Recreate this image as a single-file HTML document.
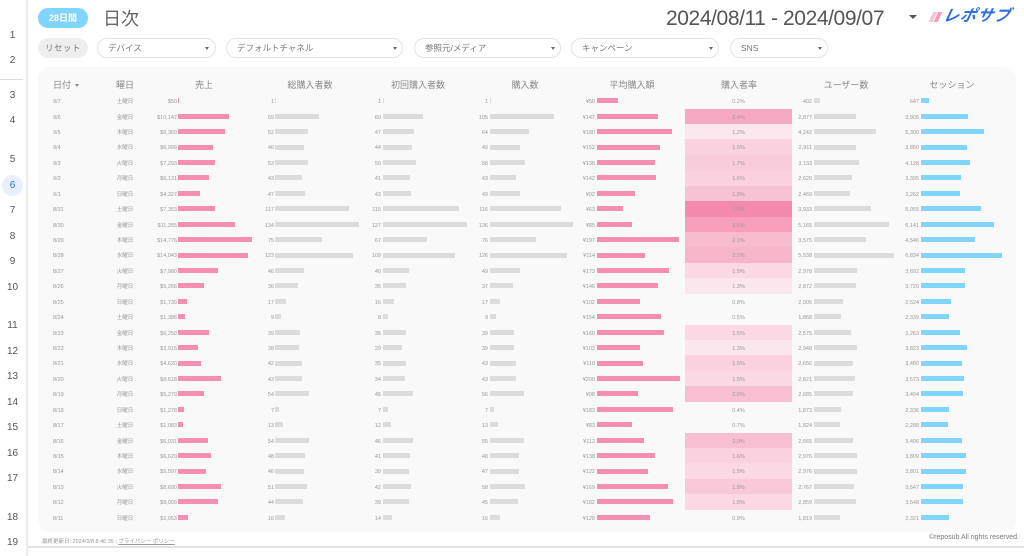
<!DOCTYPE html>
<html><head><meta charset="utf-8">
<style>
*{margin:0;padding:0;box-sizing:border-box}
html,body{width:1024px;height:556px;overflow:hidden;background:#fff}
body{position:relative;font-family:"Liberation Sans","Noto Sans CJK JP",sans-serif;color:#666}
.abs{position:absolute}
#strip{position:absolute;left:0;top:0;width:28px;height:556px;border-right:2px solid #ececec;background:#fff}
.ln{position:absolute;left:0;width:25px;text-align:center;font-size:10px;color:#555;height:14px;line-height:14px}
.pill{position:absolute;top:8px;left:38px;width:50px;height:20px;border-radius:10px;background:#81d4fa;color:#fff;font-weight:bold;font-size:9px;line-height:20px;text-align:center}
.flt{position:absolute;top:38px;height:20px;border-radius:10px;background:#fff;border:1px solid #e2e2e2;font-size:8.5px;color:#777;line-height:18px;padding-left:10px}
.flt .tri{position:absolute;top:8px;border-left:2.5px solid transparent;border-right:2.5px solid transparent;border-top:3px solid #666;width:0;height:0}
#card{position:absolute;left:38px;top:67px;width:978px;height:465px;border-radius:12px;background:#f9f9f9}
.h{position:absolute;top:79px;font-size:9px;color:#888;line-height:12px;text-align:center;white-space:nowrap}
.r{position:absolute;left:0;width:1024px;height:15.45px;font-size:5.5px;color:#999}
.r span{position:absolute;top:0;white-space:nowrap;line-height:18.5px;height:15.45px}
.d{left:53px}
.w{left:110px;width:30px;text-align:center}
.s{left:127px;width:50px;text-align:right}
.n1{left:234px;width:40px;text-align:right}
.n2{left:341px;width:40px;text-align:right}
.n3{left:448px;width:40px;text-align:right}
.a{left:555px;width:40px;text-align:right}
.rt{left:685px;width:107px;text-align:center}
.u{left:772px;width:40px;text-align:right}
.ss{left:879px;width:40px;text-align:right}
.r i{position:absolute;top:5.2px;height:5px;display:block}
.p{background:#f48fb1}.g{background:#dcdcdc}.c{background:#81d4fa}
.x1{left:178px}.x2{left:275px}.x3{left:383px}.x4{left:490px}.x5{left:597px}.x6{left:814px}.x7{left:921px}
</style></head><body>

<div id="strip">
<div class="ln" style="top:29px">1</div>
<div class="ln" style="top:54px">2</div>
<div class="abs" style="left:0;top:79px;width:23px;height:1px;background:#ddd"></div>
<div class="ln" style="top:89px">3</div>
<div class="ln" style="top:114px">4</div>
<div class="ln" style="top:153px">5</div>
<div class="abs" style="left:2px;top:175px;width:21px;height:21px;border-radius:50%;background:#e8f0fe"></div>
<div class="ln" style="top:179px;color:#1a73e8">6</div>
<div class="ln" style="top:204px">7</div>
<div class="ln" style="top:230px">8</div>
<div class="ln" style="top:255px">9</div>
<div class="ln" style="top:281px">10</div>
<div class="ln" style="top:319px">11</div>
<div class="ln" style="top:345px">12</div>
<div class="ln" style="top:370px">13</div>
<div class="ln" style="top:396px">14</div>
<div class="ln" style="top:421px">15</div>
<div class="ln" style="top:447px">16</div>
<div class="ln" style="top:472px">17</div>
<div class="ln" style="top:511px">18</div>
<div class="ln" style="top:536px">19</div>
</div>

<div class="pill">28日間</div>
<div class="abs" style="left:103px;top:7px;font-size:18px;line-height:24px;color:#666">日次</div>

<div class="abs" style="left:666px;top:6px;font-size:21px;line-height:26px;letter-spacing:-0.4px;color:#555;white-space:nowrap">2024/08/11 - 2024/09/07</div>
<div class="abs" style="left:909px;top:15px;width:0;height:0;border-left:4.5px solid transparent;border-right:4.5px solid transparent;border-top:4px solid #555"></div>
<div class="abs" style="left:931px;top:12px;width:4px;height:10px;background:#f8c4d6;transform:skewX(-25deg)"></div>
<div class="abs" style="left:936px;top:12px;width:4px;height:10px;background:#f59bbb;transform:skewX(-25deg)"></div>
<div class="abs" style="left:943px;top:6px;font-size:16px;line-height:22px;font-weight:bold;font-style:italic;color:#2a6fdb;letter-spacing:1px;transform:skewX(-12deg);white-space:nowrap">レポサブ</div>

<div class="abs" style="left:38px;top:38px;width:50px;height:20px;border-radius:10px;background:#eeeeee;font-size:8.5px;color:#777;line-height:20px;text-align:center;letter-spacing:0.5px">リセット</div>
<div class="flt" style="left:97px;width:119px">デバイス<div class="tri" style="left:107px"></div></div>
<div class="flt" style="left:226px;width:177px">デフォルトチャネル<div class="tri" style="left:166px"></div></div>
<div class="flt" style="left:414px;width:147px">参照元/メディア<div class="tri" style="left:136px"></div></div>
<div class="flt" style="left:571px;width:148px">キャンペーン<div class="tri" style="left:137px"></div></div>
<div class="flt" style="left:730px;width:98px">SNS<div class="tri" style="left:87px"></div></div>

<div id="card"></div>

<div class="h" style="left:53px;text-align:left">日付</div>
<div class="abs" style="left:75px;top:84px;width:0;height:0;border-left:2.5px solid transparent;border-right:2.5px solid transparent;border-top:3px solid #888"></div>
<div class="h" style="left:100px;width:50px">曜日</div>
<div class="h" style="left:174px;width:60px">売上</div>
<div class="h" style="left:270px;width:80px">総購入者数</div>
<div class="h" style="left:373px;width:90px">初回購入者数</div>
<div class="h" style="left:490px;width:70px">購入数</div>
<div class="h" style="left:592px;width:80px">平均購入額</div>
<div class="h" style="left:699px;width:80px">購入者率</div>
<div class="h" style="left:806px;width:80px">ユーザー数</div>
<div class="h" style="left:912px;width:80px">セッション</div>

<div class="r" style="top:93.1px"><span class="d">9/7</span><span class="w">土曜日</span><span class="s">$50</span><i class="p x1" style="width:1px"></i><span class="n1">1</span><i class="g x2" style="width:1px"></i><span class="n2">1</span><i class="g x3" style="width:1px"></i><span class="n3">1</span><i class="g x4" style="width:1px"></i><span class="a">¥50</span><i class="p x5" style="width:20.9px"></i><span class="rt">0.2%</span><span class="u">402</span><i class="g x6" style="width:5.8px"></i><span class="ss">647</span><i class="c x7" style="width:7.7px"></i></div>
<div class="r" style="top:108.5px"><span class="d">9/6</span><span class="w">金曜日</span><span class="s">$10,147</span><i class="p x1" style="width:50.7px"></i><span class="n1">69</span><i class="g x2" style="width:43.5px"></i><span class="n2">60</span><i class="g x3" style="width:39.6px"></i><span class="n3">105</span><i class="g x4" style="width:64px"></i><span class="a">¥147</span><i class="p x5" style="width:61.3px"></i><span class="rt" style="background:#f6a9c3">2.4%</span><span class="u">2,877</span><i class="g x6" style="width:41.7px"></i><span class="ss">3,905</span><i class="c x7" style="width:46.5px"></i></div>
<div class="r" style="top:123.9px"><span class="d">9/5</span><span class="w">木曜日</span><span class="s">$9,360</span><i class="p x1" style="width:46.8px"></i><span class="n1">52</span><i class="g x2" style="width:32.8px"></i><span class="n2">47</span><i class="g x3" style="width:31px"></i><span class="n3">64</span><i class="g x4" style="width:39px"></i><span class="a">¥180</span><i class="p x5" style="width:75px"></i><span class="rt" style="background:#fbe7ee">1.2%</span><span class="u">4,242</span><i class="g x6" style="width:61.5px"></i><span class="ss">5,300</span><i class="c x7" style="width:63px"></i></div>
<div class="r" style="top:139.4px"><span class="d">9/4</span><span class="w">水曜日</span><span class="s">$6,999</span><i class="p x1" style="width:35px"></i><span class="n1">46</span><i class="g x2" style="width:29px"></i><span class="n2">44</span><i class="g x3" style="width:29px"></i><span class="n3">49</span><i class="g x4" style="width:29.9px"></i><span class="a">¥152</span><i class="p x5" style="width:63.4px"></i><span class="rt" style="background:#fad1df">1.6%</span><span class="u">2,911</span><i class="g x6" style="width:42.2px"></i><span class="ss">3,850</span><i class="c x7" style="width:45.8px"></i></div>
<div class="r" style="top:154.8px"><span class="d">9/3</span><span class="w">火曜日</span><span class="s">$7,293</span><i class="p x1" style="width:36.5px"></i><span class="n1">53</span><i class="g x2" style="width:33.4px"></i><span class="n2">50</span><i class="g x3" style="width:33px"></i><span class="n3">58</span><i class="g x4" style="width:35.4px"></i><span class="a">¥138</span><i class="p x5" style="width:57.5px"></i><span class="rt" style="background:#f9ccdc">1.7%</span><span class="u">3,133</span><i class="g x6" style="width:45.4px"></i><span class="ss">4,128</span><i class="c x7" style="width:49.1px"></i></div>
<div class="r" style="top:170.2px"><span class="d">9/2</span><span class="w">月曜日</span><span class="s">$6,131</span><i class="p x1" style="width:30.7px"></i><span class="n1">43</span><i class="g x2" style="width:27.1px"></i><span class="n2">41</span><i class="g x3" style="width:27.1px"></i><span class="n3">43</span><i class="g x4" style="width:26.2px"></i><span class="a">¥142</span><i class="p x5" style="width:59.2px"></i><span class="rt" style="background:#fad1df">1.6%</span><span class="u">2,620</span><i class="g x6" style="width:38px"></i><span class="ss">3,395</span><i class="c x7" style="width:40.4px"></i></div>
<div class="r" style="top:185.7px"><span class="d">9/1</span><span class="w">日曜日</span><span class="s">$4,327</span><i class="p x1" style="width:21.6px"></i><span class="n1">47</span><i class="g x2" style="width:29.6px"></i><span class="n2">43</span><i class="g x3" style="width:28.4px"></i><span class="n3">49</span><i class="g x4" style="width:29.9px"></i><span class="a">¥92</span><i class="p x5" style="width:38.4px"></i><span class="rt" style="background:#f8c2d5">1.9%</span><span class="u">2,469</span><i class="g x6" style="width:35.8px"></i><span class="ss">3,262</span><i class="c x7" style="width:38.8px"></i></div>
<div class="r" style="top:201.1px"><span class="d">8/31</span><span class="w">土曜日</span><span class="s">$7,353</span><i class="p x1" style="width:36.8px"></i><span class="n1">117</span><i class="g x2" style="width:73.7px"></i><span class="n2">115</span><i class="g x3" style="width:75.9px"></i><span class="n3">116</span><i class="g x4" style="width:70.8px"></i><span class="a">¥63</span><i class="p x5" style="width:26.3px"></i><span class="rt" style="background:#f48aae">3.0%</span><span class="u">3,933</span><i class="g x6" style="width:57px"></i><span class="ss">5,055</span><i class="c x7" style="width:60.2px"></i></div>
<div class="r" style="top:216.5px"><span class="d">8/30</span><span class="w">金曜日</span><span class="s">$11,355</span><i class="p x1" style="width:56.8px"></i><span class="n1">134</span><i class="g x2" style="width:84.4px"></i><span class="n2">127</span><i class="g x3" style="width:83.8px"></i><span class="n3">136</span><i class="g x4" style="width:83px"></i><span class="a">¥85</span><i class="p x5" style="width:35.4px"></i><span class="rt" style="background:#f69ebc">2.6%</span><span class="u">5,165</span><i class="g x6" style="width:74.9px"></i><span class="ss">6,141</span><i class="c x7" style="width:73.1px"></i></div>
<div class="r" style="top:232px"><span class="d">8/29</span><span class="w">木曜日</span><span class="s">$14,776</span><i class="p x1" style="width:73.9px"></i><span class="n1">75</span><i class="g x2" style="width:47.3px"></i><span class="n2">67</span><i class="g x3" style="width:44.2px"></i><span class="n3">76</span><i class="g x4" style="width:46.4px"></i><span class="a">¥197</span><i class="p x5" style="width:82.1px"></i><span class="rt" style="background:#f8bccf">2.1%</span><span class="u">3,575</span><i class="g x6" style="width:51.8px"></i><span class="ss">4,546</span><i class="c x7" style="width:54.1px"></i></div>
<div class="r" style="top:247.4px"><span class="d">8/28</span><span class="w">水曜日</span><span class="s">$14,043</span><i class="p x1" style="width:70.2px"></i><span class="n1">123</span><i class="g x2" style="width:77.5px"></i><span class="n2">109</span><i class="g x3" style="width:71.9px"></i><span class="n3">126</span><i class="g x4" style="width:76.9px"></i><span class="a">¥114</span><i class="p x5" style="width:47.5px"></i><span class="rt" style="background:#f7b5cb">2.2%</span><span class="u">5,538</span><i class="g x6" style="width:80.3px"></i><span class="ss">6,834</span><i class="c x7" style="width:81.3px"></i></div>
<div class="r" style="top:262.8px"><span class="d">8/27</span><span class="w">火曜日</span><span class="s">$7,980</span><i class="p x1" style="width:39.9px"></i><span class="n1">46</span><i class="g x2" style="width:29px"></i><span class="n2">40</span><i class="g x3" style="width:26.4px"></i><span class="n3">49</span><i class="g x4" style="width:29.9px"></i><span class="a">¥173</span><i class="p x5" style="width:72.1px"></i><span class="rt" style="background:#fad8e4">1.5%</span><span class="u">2,978</span><i class="g x6" style="width:43.2px"></i><span class="ss">3,692</span><i class="c x7" style="width:43.9px"></i></div>
<div class="r" style="top:278.2px"><span class="d">8/26</span><span class="w">月曜日</span><span class="s">$5,266</span><i class="p x1" style="width:26.3px"></i><span class="n1">36</span><i class="g x2" style="width:22.7px"></i><span class="n2">35</span><i class="g x3" style="width:23.1px"></i><span class="n3">37</span><i class="g x4" style="width:22.6px"></i><span class="a">¥146</span><i class="p x5" style="width:60.9px"></i><span class="rt" style="background:#fbe6ed">1.3%</span><span class="u">2,872</span><i class="g x6" style="width:41.6px"></i><span class="ss">3,720</span><i class="c x7" style="width:44.3px"></i></div>
<div class="r" style="top:293.7px"><span class="d">8/25</span><span class="w">日曜日</span><span class="s">$1,739</span><i class="p x1" style="width:8.7px"></i><span class="n1">17</span><i class="g x2" style="width:10.7px"></i><span class="n2">16</span><i class="g x3" style="width:10.6px"></i><span class="n3">17</span><i class="g x4" style="width:10.4px"></i><span class="a">¥102</span><i class="p x5" style="width:42.5px"></i><span class="rt">0.8%</span><span class="u">2,005</span><i class="g x6" style="width:29.1px"></i><span class="ss">2,524</span><i class="c x7" style="width:30px"></i></div>
<div class="r" style="top:309.1px"><span class="d">8/24</span><span class="w">土曜日</span><span class="s">$1,386</span><i class="p x1" style="width:6.9px"></i><span class="n1">9</span><i class="g x2" style="width:5.7px"></i><span class="n2">8</span><i class="g x3" style="width:5.3px"></i><span class="n3">9</span><i class="g x4" style="width:5.5px"></i><span class="a">¥154</span><i class="p x5" style="width:64.2px"></i><span class="rt">0.5%</span><span class="u">1,868</span><i class="g x6" style="width:27.1px"></i><span class="ss">2,339</span><i class="c x7" style="width:27.8px"></i></div>
<div class="r" style="top:324.5px"><span class="d">8/23</span><span class="w">金曜日</span><span class="s">$6,250</span><i class="p x1" style="width:31.3px"></i><span class="n1">39</span><i class="g x2" style="width:24.6px"></i><span class="n2">35</span><i class="g x3" style="width:23.1px"></i><span class="n3">39</span><i class="g x4" style="width:23.8px"></i><span class="a">¥160</span><i class="p x5" style="width:66.7px"></i><span class="rt" style="background:#fad8e4">1.5%</span><span class="u">2,575</span><i class="g x6" style="width:37.3px"></i><span class="ss">3,263</span><i class="c x7" style="width:38.8px"></i></div>
<div class="r" style="top:340px"><span class="d">8/22</span><span class="w">木曜日</span><span class="s">$3,915</span><i class="p x1" style="width:19.6px"></i><span class="n1">38</span><i class="g x2" style="width:23.9px"></i><span class="n2">29</span><i class="g x3" style="width:19.1px"></i><span class="n3">39</span><i class="g x4" style="width:23.8px"></i><span class="a">¥103</span><i class="p x5" style="width:43px"></i><span class="rt" style="background:#fbe6ed">1.3%</span><span class="u">2,948</span><i class="g x6" style="width:42.7px"></i><span class="ss">3,823</span><i class="c x7" style="width:45.5px"></i></div>
<div class="r" style="top:355.4px"><span class="d">8/21</span><span class="w">水曜日</span><span class="s">$4,620</span><i class="p x1" style="width:23.1px"></i><span class="n1">42</span><i class="g x2" style="width:26.5px"></i><span class="n2">35</span><i class="g x3" style="width:23.1px"></i><span class="n3">43</span><i class="g x4" style="width:26.2px"></i><span class="a">¥110</span><i class="p x5" style="width:45.9px"></i><span class="rt" style="background:#fad1df">1.6%</span><span class="u">2,656</span><i class="g x6" style="width:38.5px"></i><span class="ss">3,480</span><i class="c x7" style="width:41.4px"></i></div>
<div class="r" style="top:370.8px"><span class="d">8/20</span><span class="w">火曜日</span><span class="s">$8,618</span><i class="p x1" style="width:43.1px"></i><span class="n1">43</span><i class="g x2" style="width:27.1px"></i><span class="n2">34</span><i class="g x3" style="width:22.4px"></i><span class="n3">43</span><i class="g x4" style="width:26.2px"></i><span class="a">¥200</span><i class="p x5" style="width:83.4px"></i><span class="rt" style="background:#fad8e4">1.5%</span><span class="u">2,821</span><i class="g x6" style="width:40.9px"></i><span class="ss">3,573</span><i class="c x7" style="width:42.5px"></i></div>
<div class="r" style="top:386.3px"><span class="d">8/19</span><span class="w">月曜日</span><span class="s">$5,279</span><i class="p x1" style="width:26.4px"></i><span class="n1">54</span><i class="g x2" style="width:34px"></i><span class="n2">45</span><i class="g x3" style="width:29.7px"></i><span class="n3">56</span><i class="g x4" style="width:34.2px"></i><span class="a">¥98</span><i class="p x5" style="width:40.9px"></i><span class="rt" style="background:#f8bfd2">2.0%</span><span class="u">2,685</span><i class="g x6" style="width:38.9px"></i><span class="ss">3,494</span><i class="c x7" style="width:41.6px"></i></div>
<div class="r" style="top:401.7px"><span class="d">8/18</span><span class="w">日曜日</span><span class="s">$1,278</span><i class="p x1" style="width:6.4px"></i><span class="n1">7</span><i class="g x2" style="width:4.4px"></i><span class="n2">7</span><i class="g x3" style="width:4.6px"></i><span class="n3">7</span><i class="g x4" style="width:4.3px"></i><span class="a">¥183</span><i class="p x5" style="width:76.3px"></i><span class="rt">0.4%</span><span class="u">1,873</span><i class="g x6" style="width:27.2px"></i><span class="ss">2,336</span><i class="c x7" style="width:27.8px"></i></div>
<div class="r" style="top:417.1px"><span class="d">8/17</span><span class="w">土曜日</span><span class="s">$1,083</span><i class="p x1" style="width:5.4px"></i><span class="n1">13</span><i class="g x2" style="width:8.2px"></i><span class="n2">12</span><i class="g x3" style="width:7.9px"></i><span class="n3">13</span><i class="g x4" style="width:7.9px"></i><span class="a">¥83</span><i class="p x5" style="width:34.6px"></i><span class="rt">0.7%</span><span class="u">1,824</span><i class="g x6" style="width:26.4px"></i><span class="ss">2,288</span><i class="c x7" style="width:27.2px"></i></div>
<div class="r" style="top:432.5px"><span class="d">8/16</span><span class="w">金曜日</span><span class="s">$6,031</span><i class="p x1" style="width:30.2px"></i><span class="n1">54</span><i class="g x2" style="width:34px"></i><span class="n2">46</span><i class="g x3" style="width:30.4px"></i><span class="n3">55</span><i class="g x4" style="width:33.6px"></i><span class="a">¥112</span><i class="p x5" style="width:46.7px"></i><span class="rt" style="background:#f8bfd2">2.0%</span><span class="u">2,665</span><i class="g x6" style="width:38.6px"></i><span class="ss">3,406</span><i class="c x7" style="width:40.5px"></i></div>
<div class="r" style="top:448px"><span class="d">8/15</span><span class="w">木曜日</span><span class="s">$6,620</span><i class="p x1" style="width:33.1px"></i><span class="n1">48</span><i class="g x2" style="width:30.2px"></i><span class="n2">41</span><i class="g x3" style="width:27.1px"></i><span class="n3">48</span><i class="g x4" style="width:29.3px"></i><span class="a">¥138</span><i class="p x5" style="width:57.5px"></i><span class="rt" style="background:#fad1df">1.6%</span><span class="u">2,976</span><i class="g x6" style="width:43.2px"></i><span class="ss">3,809</span><i class="c x7" style="width:45.3px"></i></div>
<div class="r" style="top:463.4px"><span class="d">8/14</span><span class="w">水曜日</span><span class="s">$5,597</span><i class="p x1" style="width:28px"></i><span class="n1">46</span><i class="g x2" style="width:29px"></i><span class="n2">39</span><i class="g x3" style="width:25.7px"></i><span class="n3">47</span><i class="g x4" style="width:28.7px"></i><span class="a">¥122</span><i class="p x5" style="width:50.9px"></i><span class="rt" style="background:#fad8e4">1.5%</span><span class="u">2,976</span><i class="g x6" style="width:43.2px"></i><span class="ss">3,801</span><i class="c x7" style="width:45.2px"></i></div>
<div class="r" style="top:478.8px"><span class="d">8/13</span><span class="w">火曜日</span><span class="s">$8,600</span><i class="p x1" style="width:43px"></i><span class="n1">51</span><i class="g x2" style="width:32.1px"></i><span class="n2">42</span><i class="g x3" style="width:27.7px"></i><span class="n3">58</span><i class="g x4" style="width:35.4px"></i><span class="a">¥169</span><i class="p x5" style="width:70.5px"></i><span class="rt" style="background:#f9c8d9">1.8%</span><span class="u">2,767</span><i class="g x6" style="width:40.1px"></i><span class="ss">3,547</span><i class="c x7" style="width:42.2px"></i></div>
<div class="r" style="top:494.3px"><span class="d">8/12</span><span class="w">月曜日</span><span class="s">$8,009</span><i class="p x1" style="width:40px"></i><span class="n1">44</span><i class="g x2" style="width:27.7px"></i><span class="n2">39</span><i class="g x3" style="width:25.7px"></i><span class="n3">45</span><i class="g x4" style="width:27.5px"></i><span class="a">¥182</span><i class="p x5" style="width:75.9px"></i><span class="rt" style="background:#fad8e4">1.5%</span><span class="u">2,859</span><i class="g x6" style="width:41.5px"></i><span class="ss">3,548</span><i class="c x7" style="width:42.2px"></i></div>
<div class="r" style="top:509.7px"><span class="d">8/11</span><span class="w">日曜日</span><span class="s">$2,053</span><i class="p x1" style="width:10.3px"></i><span class="n1">16</span><i class="g x2" style="width:10.1px"></i><span class="n2">14</span><i class="g x3" style="width:9.2px"></i><span class="n3">16</span><i class="g x4" style="width:9.8px"></i><span class="a">¥128</span><i class="p x5" style="width:53.4px"></i><span class="rt">0.9%</span><span class="u">1,819</span><i class="g x6" style="width:26.4px"></i><span class="ss">2,321</span><i class="c x7" style="width:27.6px"></i></div>

<div class="abs" style="left:42px;top:538px;font-size:5.5px;line-height:8px;color:#999;white-space:nowrap">最終更新日: 2024/9/8 8:46:35 <span style="color:#ccc">|</span> <span style="text-decoration:underline">プライバシー ポリシー</span></div>
<div class="abs" style="left:880px;width:139px;top:533px;font-size:7px;line-height:10px;color:#777;text-align:right;white-space:nowrap">©reposub All rights reserved.</div>
<div class="abs" style="left:28px;top:546px;width:996px;height:2px;background:#e3e3e3"></div>
</body></html>
